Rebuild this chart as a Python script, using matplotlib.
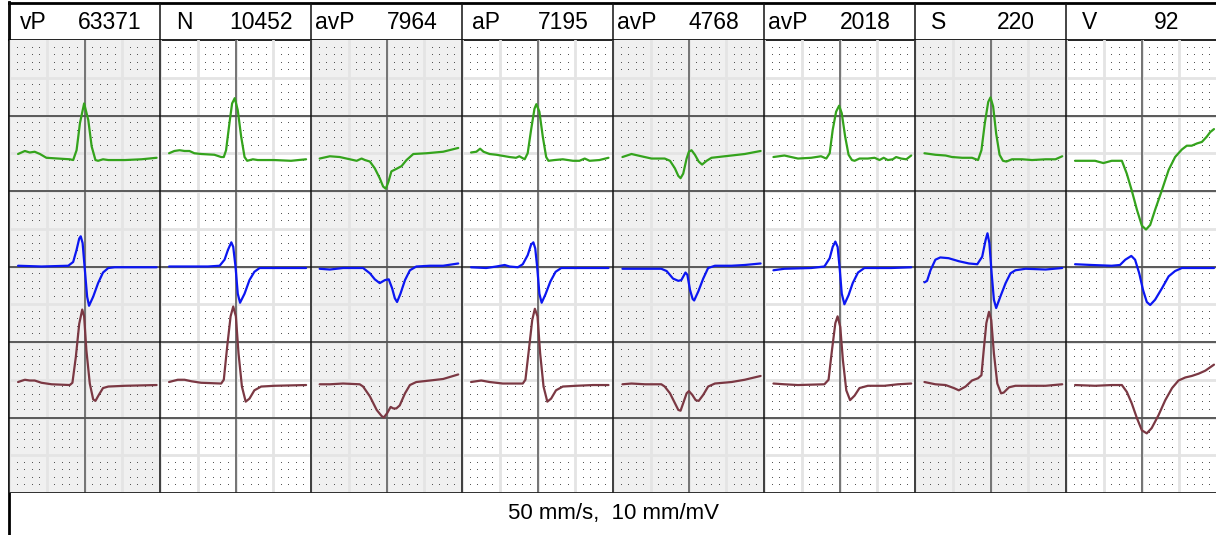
import matplotlib
matplotlib.use("Agg")
import matplotlib.pyplot as plt
import numpy as np

plt.rcParams['font.family'] = ['Liberation Sans', 'DejaVu Sans']

# beat classes shown in the header
beat_labels = ["vP", "N", "avP", "aP", "avP", "avP", "S", "V"]
beat_counts = [63371, 10452, 7964, 7195, 4768, 2018, 220, 92]

# averaged beats: (ms from panel centre, mV from lane baseline)
green1 = [(-176, -0.01), (-158, 0.03), (-145, 0.01), (-132, 0.02), (-118, -0.01), (-101, -0.06),
          (-70, -0.07), (-39, -0.08), (-30, -0.09), (-21, 0.04), (-12, 0.40), (-1, 0.66),
          (10, 0.44), (19, 0.09), (29, -0.09), (36, -0.10), (49, -0.08), (63, -0.09),
          (107, -0.09), (151, -0.08), (191, -0.06)]
blue1 = [(-176, 0.01), (-114, 0.0), (-43, 0.01), (-30, 0.06), (-21, 0.22), (-14, 0.37), (-10, 0.40),
         (-5, 0.31), (1, -0.05), (7, -0.40), (12, -0.52), (23, -0.40), (36, -0.22), (49, -0.08),
         (63, -0.02), (80, -0.01), (191, -0.01)]
maroon1 = [(-176, -0.03), (-158, 0.0), (-145, -0.01), (-132, -0.01), (-114, -0.04), (-87, -0.06),
           (-39, -0.07), (-32, -0.04), (-23, 0.30), (-14, 0.74), (-6, 0.93), (-1, 0.84), (5, 0.39),
           (14, -0.05), (23, -0.26), (29, -0.28), (38, -0.20), (49, -0.11), (63, -0.09),
           (107, -0.08), (191, -0.07)]

green2 = [(-176, 0.0), (-162, 0.03), (-148, 0.04), (-135, 0.03), (-122, 0.03), (-109, 0.0),
          (-91, -0.01), (-56, -0.02), (-38, -0.05), (-31, -0.05), (-25, 0.04), (-16, 0.40),
          (-9, 0.66), (-2, 0.73), (6, 0.57), (15, 0.22), (24, -0.05), (31, -0.10), (46, -0.08),
          (59, -0.09), (103, -0.09), (147, -0.10), (187, -0.08)]
blue2 = [(-176, 0.0), (-73, 0.0), (-42, 0.01), (-29, 0.09), (-20, 0.22), (-11, 0.32), (-6, 0.26),
         (0, 0.0), (6, -0.36), (12, -0.48), (24, -0.36), (37, -0.18), (50, -0.07), (64, -0.02),
         (187, -0.02)]
maroon2 = [(-176, -0.03), (-153, 0.0), (-135, 0.0), (-117, -0.02), (-91, -0.04), (-38, -0.05),
           (-31, 0.0), (-22, 0.44), (-13, 0.84), (-6, 0.97), (1, 0.84), (8, 0.35), (17, -0.09),
           (27, -0.29), (37, -0.25), (50, -0.14), (68, -0.09), (103, -0.08), (187, -0.07)]

green3 = [(-177, -0.07), (-150, -0.04), (-124, -0.05), (-97, -0.08), (-79, -0.10), (-66, -0.07),
          (-57, -0.09), (-44, -0.11), (-31, -0.20), (-18, -0.33), (-9, -0.44), (-2, -0.47),
          (5, -0.38), (13, -0.24), (25, -0.21), (40, -0.17), (53, -0.09), (71, -0.01),
          (106, 0.0), (150, 0.02), (190, 0.07)]
blue3 = [(-177, -0.03), (-150, -0.04), (-115, -0.02), (-62, -0.02), (-44, -0.09), (-31, -0.17),
         (-18, -0.22), (-4, -0.18), (6, -0.17), (15, -0.29), (22, -0.42), (28, -0.47), (37, -0.36),
         (49, -0.18), (62, -0.05), (79, 0.0), (115, 0.01), (150, 0.01), (190, 0.04)]
maroon3 = [(-177, -0.06), (-150, -0.06), (-115, -0.05), (-71, -0.06), (-62, -0.09), (-44, -0.22),
           (-26, -0.40), (-13, -0.48), (-7, -0.50), (2, -0.44), (11, -0.36), (18, -0.38),
           (26, -0.38), (35, -0.34), (49, -0.18), (62, -0.07), (79, -0.03), (115, -0.01),
           (150, 0.01), (190, 0.07)]

green4 = [(-176, 0.01), (-162, 0.02), (-152, 0.06), (-143, 0.02), (-127, -0.01), (-109, -0.02),
          (-74, -0.05), (-57, -0.06), (-48, -0.04), (-34, -0.08), (-26, 0.0), (-17, 0.31),
          (-8, 0.59), (-3, 0.65), (5, 0.55), (14, 0.22), (23, -0.05), (29, -0.10), (45, -0.09),
          (67, -0.08), (94, -0.10), (111, -0.10), (125, -0.07), (138, -0.10), (164, -0.09),
          (188, -0.06)]
blue4 = [(-176, -0.01), (-136, -0.02), (-109, 0.0), (-87, 0.02), (-74, 0.0), (-52, -0.01),
         (-39, 0.03), (-26, 0.15), (-17, 0.29), (-11, 0.32), (-6, 0.24), (-1, 0.0), (5, -0.36),
         (11, -0.48), (21, -0.37), (34, -0.20), (48, -0.07), (63, -0.02), (188, -0.02)]
maroon4 = [(-176, -0.03), (-149, -0.01), (-127, -0.03), (-92, -0.05), (-39, -0.05), (-32, 0.0),
           (-23, 0.39), (-14, 0.79), (-7, 0.94), (0, 0.84), (7, 0.35), (16, -0.09), (26, -0.29),
           (36, -0.25), (49, -0.14), (67, -0.09), (102, -0.08), (147, -0.07), (188, -0.07)]

green5 = [(-175, -0.05), (-151, -0.01), (-125, -0.04), (-98, -0.07), (-63, -0.07), (-49, -0.10),
          (-36, -0.20), (-27, -0.30), (-21, -0.33), (-14, -0.27), (-5, -0.07), (1, 0.02),
          (8, 0.04), (17, -0.02), (27, -0.11), (36, -0.15), (48, -0.10), (61, -0.06),
          (96, -0.04), (149, -0.01), (191, 0.03)]
blue5 = [(-175, -0.03), (-133, -0.03), (-72, -0.03), (-58, -0.06), (-41, -0.16), (-27, -0.19),
         (-19, -0.18), (-8, -0.08), (-3, -0.11), (4, -0.31), (11, -0.43), (15, -0.45),
         (26, -0.33), (39, -0.16), (52, -0.02), (70, 0.01), (114, 0.01), (149, 0.02), (191, 0.04)]
maroon5 = [(-175, -0.06), (-151, -0.05), (-115, -0.06), (-72, -0.06), (-63, -0.09), (-49, -0.18),
           (-36, -0.31), (-27, -0.40), (-21, -0.41), (-14, -0.31), (-5, -0.18), (1, -0.15),
           (10, -0.20), (19, -0.27), (27, -0.28), (39, -0.20), (52, -0.09), (70, -0.05),
           (114, -0.03), (149, 0.0), (191, 0.05)]

green6 = [(-175, -0.05), (-146, -0.03), (-110, -0.07), (-75, -0.06), (-49, -0.04), (-35, -0.07),
          (-26, 0.0), (-18, 0.31), (-9, 0.55), (-1, 0.63), (6, 0.53), (15, 0.22), (24, -0.02),
          (33, -0.09), (40, -0.10), (53, -0.07), (75, -0.07), (93, -0.06), (106, -0.09),
          (117, -0.06), (128, -0.09), (141, -0.08), (150, -0.05), (163, -0.07), (177, -0.08),
          (190, -0.03)]
blue6 = [(-175, -0.05), (-146, -0.03), (-75, -0.02), (-40, 0.0), (-26, 0.11), (-18, 0.26),
         (-11, 0.33), (-5, 0.26), (0, 0.0), (6, -0.36), (13, -0.50), (24, -0.38), (35, -0.22),
         (49, -0.08), (66, -0.02), (102, -0.02), (137, -0.02), (190, -0.01)]
maroon6 = [(-175, -0.05), (-146, -0.06), (-110, -0.07), (-40, -0.06), (-29, 0.0), (-20, 0.39),
           (-11, 0.75), (-5, 0.84), (2, 0.70), (9, 0.26), (18, -0.14), (28, -0.27), (40, -0.21),
           (53, -0.11), (75, -0.08), (119, -0.08), (155, -0.06), (190, -0.05)]

green7 = [(-175, 0.0), (-146, -0.02), (-119, -0.03), (-102, -0.05), (-75, -0.06), (-49, -0.06),
          (-33, -0.09), (-24, 0.04), (-15, 0.40), (-6, 0.68), (0, 0.74), (7, 0.62), (15, 0.26),
          (24, -0.02), (33, -0.10), (42, -0.11), (57, -0.08), (84, -0.08), (110, -0.09),
          (146, -0.08), (172, -0.08), (190, -0.04)]
blue7 = [(-175, -0.21), (-168, -0.19), (-159, -0.05), (-146, 0.09), (-133, 0.12), (-111, 0.11),
         (-84, 0.07), (-57, 0.04), (-35, 0.03), (-22, 0.13), (-13, 0.35), (-8, 0.44), (-3, 0.31),
         (3, -0.09), (9, -0.44), (15, -0.55), (26, -0.40), (40, -0.22), (53, -0.09), (66, -0.05),
         (93, -0.03), (146, -0.04), (190, -0.02)]
maroon7 = [(-175, -0.03), (-146, -0.06), (-119, -0.07), (-97, -0.11), (-84, -0.14), (-66, -0.09),
           (-49, -0.01), (-33, 0.02), (-24, 0.06), (-18, 0.39), (-11, 0.75), (-4, 0.90), (2, 0.79),
           (9, 0.35), (18, -0.05), (28, -0.18), (35, -0.17), (49, -0.10), (66, -0.08),
           (102, -0.08), (146, -0.08), (190, -0.06)]

green8 = [(-176, -0.10), (-149, -0.10), (-123, -0.10), (-101, -0.13), (-79, -0.10), (-52, -0.10),
          (-39, -0.27), (-26, -0.49), (-12, -0.75), (1, -0.96), (12, -1.01), (23, -0.95),
          (36, -0.75), (54, -0.49), (72, -0.22), (89, -0.05), (107, 0.05), (120, 0.10),
          (133, 0.10), (147, 0.13), (160, 0.15), (173, 0.22), (182, 0.28), (192, 0.32)]
blue8 = [(-176, 0.03), (-132, 0.02), (-79, 0.01), (-57, 0.02), (-43, 0.09), (-27, 0.14),
         (-17, 0.09), (-6, -0.09), (4, -0.31), (14, -0.47), (23, -0.51), (36, -0.44), (54, -0.29),
         (72, -0.13), (89, -0.06), (107, -0.02), (142, -0.02), (192, -0.02)]
maroon8 = [(-176, -0.07), (-123, -0.08), (-79, -0.07), (-52, -0.07), (-39, -0.16), (-26, -0.31),
           (-12, -0.51), (1, -0.67), (14, -0.71), (27, -0.64), (45, -0.47), (63, -0.27),
           (81, -0.11), (98, -0.01), (116, 0.03), (133, 0.05), (151, 0.08), (169, 0.12),
           (192, 0.20)]

green = [green1, green2, green3, green4, green5, green6, green7, green8]
blue = [blue1, blue2, blue3, blue4, blue5, blue6, blue7, blue8]
maroon = [maroon1, maroon2, maroon3, maroon4, maroon5, maroon6, maroon7, maroon8]

# paper: 50 mm/s, 10 mm/mV, one panel = 0.4 s, 6 mV tall
panel_s = 0.4
n_panels = len(beat_labels)
leads = [(green, 4.5, '#34a31c'), (blue, 3.0, '#0b16f2'), (maroon, 1.5, '#7b3843')]

W, H = 1216, 535
fig = plt.figure(figsize=(W / 100, H / 100), dpi=100)

frame = fig.add_axes([0, 0, 1, 1])
frame.set_xlim(0, W)
frame.set_ylim(H, 0)
frame.axis('off')

gx0, gx1, gy0, gy1 = 9, 9 + 151 * n_panels, 40, 493
ax = fig.add_axes([gx0 / W, 1 - gy1 / H, (gx1 - gx0) / W, (gy1 - gy0) / H])
ax.set_xlim(0, panel_s * n_panels)
ax.set_ylim(0, 6)
ax.axis('off')

for i in range(n_panels):
    if i % 2 == 0:
        ax.axvspan(i * panel_s, (i + 1) * panel_s, color='#f0f0f0', lw=0, zorder=0)

# 5 mm lines
for k in range(4 * n_panels):
    ax.axvline(k * 0.1, color='#e4e4e4', lw=2.0, zorder=1)
for k in range(12):
    ax.axhline(k * 0.5, color='#e4e4e4', lw=2.0, zorder=1)

# 1 mm dots, one pixel each
dx = [i * 0.02 for i in range(20 * n_panels) if i % 5 != 0]
dy = [j * 0.1 for j in range(60) if j % 5 != 0]
DX, DY = np.meshgrid(dx, dy)
ax.plot(DX.ravel(), DY.ravel(), ',', color='#555555', zorder=2)

# 1 mV lines, beat centres, panel borders
for k in range(1, 6):
    ax.axhline(k, color='#333333', lw=1.1, zorder=3)
for i in range(n_panels):
    ax.axvline(i * panel_s + panel_s / 2, color='#555555', lw=1.1, zorder=3)
    ax.axvline(i * panel_s, color='#111111', lw=1.1, zorder=3)
ax.axhline(0, color='#222222', lw=1.3, zorder=3)

for data, base, col in leads:
    for i, beat in enumerate(data):
        t = np.array([p[0] for p in beat]) / 1000.0
        v = np.array([p[1] for p in beat])
        ax.plot(i * panel_s + panel_s / 2 + t, base + v, color=col, lw=1.6,
                solid_joinstyle='round', solid_capstyle='round', zorder=4)

# header
hx = fig.add_axes([gx0 / W, 1 - gy0 / H, (gx1 - gx0) / W, (gy0 - 2) / H])
hx.set_xlim(0, panel_s * n_panels)
hx.set_ylim(0, 1)
hx.axis('off')
for i in range(n_panels):
    hx.axvline(i * panel_s, color='#111111', lw=1.1)
    hx.text(i * panel_s + 0.0636, 0.28, beat_labels[i], ha='center', va='baseline', fontsize=16.5)
    hx.text(i * panel_s + 0.2675, 0.28, str(beat_counts[i]), ha='center', va='baseline', fontsize=16.5)

frame.plot([gx0, W], [40, 40], color='#111111', lw=1.3)
frame.plot([gx0, W + 5], [2.5, 2.5], color='black', lw=2.0)
frame.plot([gx0, gx0], [2, H + 5], color='black', lw=2.0)

frame.text(614, 519, "50 mm/s,  10 mm/mV", ha='center', va='baseline', fontsize=16)

fig.savefig("out.png", dpi=100)
